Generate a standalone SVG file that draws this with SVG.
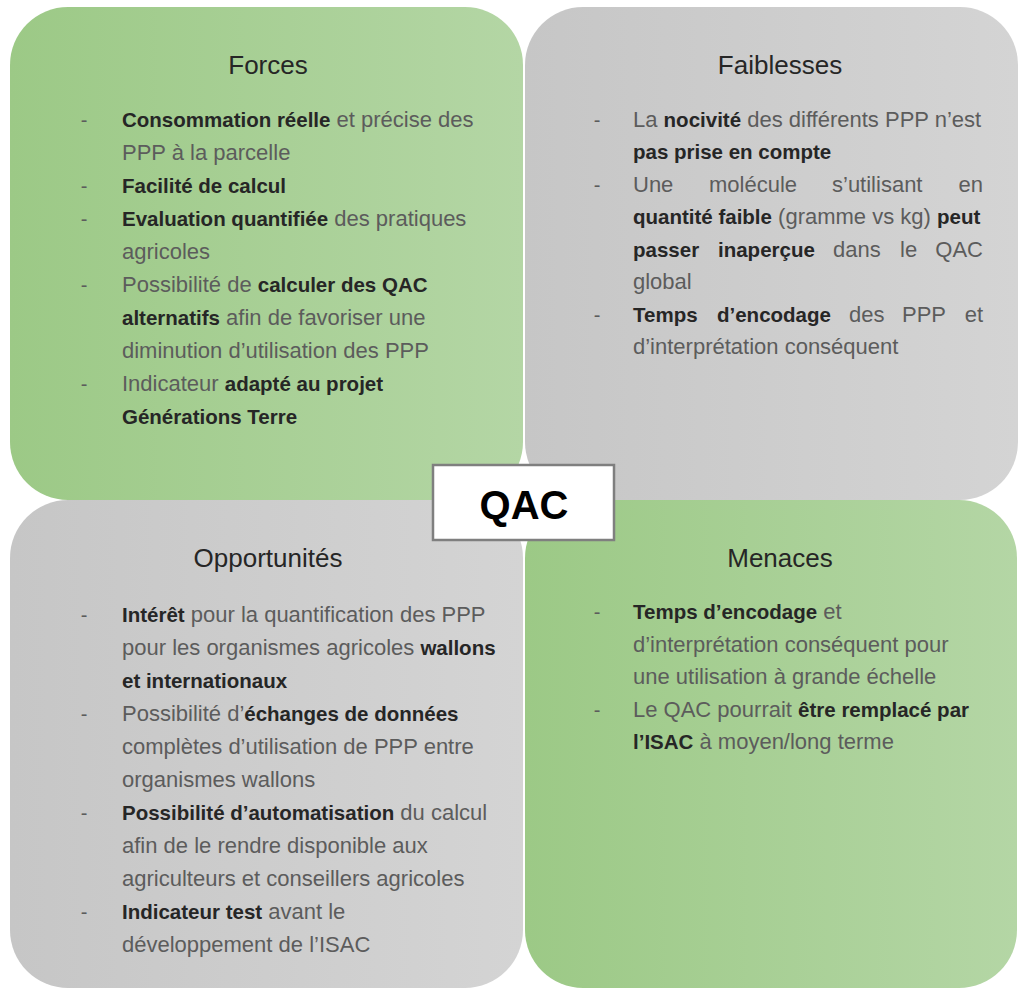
<svg xmlns="http://www.w3.org/2000/svg" width="1019" height="990" viewBox="0 0 1019 990">
  <defs>
    <linearGradient id="gGreen" x1="0" y1="0" x2="1" y2="0">
      <stop offset="0" stop-color="#9cc986"/>
      <stop offset="1" stop-color="#b4d6a5"/>
    </linearGradient>
    <linearGradient id="gGray" x1="0" y1="0" x2="1" y2="0">
      <stop offset="0" stop-color="#c6c6c6"/>
      <stop offset="1" stop-color="#d4d4d4"/>
    </linearGradient>
    <style>
      text { font-family: "Liberation Sans", Arial, sans-serif; }
      .title { font-size: 26px; fill: #262626; text-anchor: middle; }
      .t { font-size: 22px; fill: #5c5c5c; }
      .b { font-size: 20.5px; font-weight: bold; fill: #262626; }
      .dash { font-size: 20px; fill: #5c5c5c; text-anchor: middle; }
      .end { text-anchor: end; }
      .qac { font-size: 40px; font-weight: bold; fill: #000; text-anchor: middle; }
    </style>
  </defs>

  <rect width="1019" height="990" fill="#ffffff"/>

  <!-- Forces -->
  <g id="forces">
    <rect x="10" y="7" width="513" height="493" rx="58" fill="url(#gGreen)"/>
    <text class="title" x="268" y="74">Forces</text>
    <text class="dash" x="84" y="127">-</text>
    <text class="t" x="122" y="127"><tspan class="b">Consommation réelle</tspan> et précise des</text>
    <text class="t" x="122" y="160">PPP à la parcelle</text>
    <text class="dash" x="84" y="193">-</text>
    <text class="t" x="122" y="193"><tspan class="b">Facilité de calcul</tspan></text>
    <text class="dash" x="84" y="226">-</text>
    <text class="t" x="122" y="226"><tspan class="b">Evaluation quantifiée</tspan> des pratiques</text>
    <text class="t" x="122" y="259">agricoles</text>
    <text class="dash" x="84" y="292">-</text>
    <text class="t" x="122" y="292">Possibilité de <tspan class="b">calculer des QAC</tspan></text>
    <text class="t" x="122" y="325"><tspan class="b">alternatifs</tspan> afin de favoriser une</text>
    <text class="t" x="122" y="358">diminution d’utilisation des PPP</text>
    <text class="dash" x="84" y="391">-</text>
    <text class="t" x="122" y="391">Indicateur <tspan class="b">adapté au projet</tspan></text>
    <text class="t" x="122" y="424"><tspan class="b">Générations Terre</tspan></text>
  </g>

  <!-- Faiblesses (justified paragraphs: words placed on the line) -->
  <g id="faiblesses">
    <rect x="525" y="7" width="493" height="493" rx="58" fill="url(#gGray)"/>
    <text class="title" x="780" y="74">Faiblesses</text>
    <text class="dash" x="597" y="127">-</text>
    <text class="t" x="633" y="127">La <tspan class="b">nocivité</tspan> des différents PPP n’est</text>
    <text class="t" x="633" y="159"><tspan class="b">pas prise en compte</tspan></text>
    <text class="dash" x="597" y="192">-</text>
    <text class="t" x="633" y="192">Une</text>
    <text class="t" x="709" y="192">molécule</text>
    <text class="t" x="832" y="192">s’utilisant</text>
    <text class="t end" x="983" y="192">en</text>
    <text class="t" x="633" y="224"><tspan class="b">quantité faible</tspan> (gramme vs kg) <tspan class="b">peut</tspan></text>
    <text class="b" x="633" y="257">passer</text>
    <text class="b" x="718" y="257">inaperçue</text>
    <text class="t" x="833" y="257">dans</text>
    <text class="t" x="900" y="257">le</text>
    <text class="t end" x="983" y="257">QAC</text>
    <text class="t" x="633" y="289">global</text>
    <text class="dash" x="597" y="322">-</text>
    <text class="b" x="633" y="322">Temps</text>
    <text class="b" x="717" y="322">d’encodage</text>
    <text class="t" x="849" y="322">des</text>
    <text class="t" x="902" y="322">PPP</text>
    <text class="t end" x="983" y="322">et</text>
    <text class="t" x="633" y="354">d’interprétation conséquent</text>
  </g>

  <!-- Opportunités -->
  <g id="opportunites">
    <rect x="10" y="500" width="513" height="488" rx="58" fill="url(#gGray)"/>
    <text class="title" x="268" y="567">Opportunités</text>
    <text class="dash" x="84" y="622">-</text>
    <text class="t" x="122" y="622"><tspan class="b">Intérêt</tspan> pour la quantification des PPP</text>
    <text class="t" x="122" y="655">pour les organismes agricoles <tspan class="b">wallons</tspan></text>
    <text class="t" x="122" y="688"><tspan class="b">et internationaux</tspan></text>
    <text class="dash" x="84" y="721">-</text>
    <text class="t" x="122" y="721">Possibilité d’<tspan class="b">échanges de données</tspan></text>
    <text class="t" x="122" y="754">complètes d’utilisation de PPP entre</text>
    <text class="t" x="122" y="787">organismes wallons</text>
    <text class="dash" x="84" y="820">-</text>
    <text class="t" x="122" y="820"><tspan class="b">Possibilité d’automatisation</tspan> du calcul</text>
    <text class="t" x="122" y="853">afin de le rendre disponible aux</text>
    <text class="t" x="122" y="886">agriculteurs et conseillers agricoles</text>
    <text class="dash" x="84" y="919">-</text>
    <text class="t" x="122" y="919"><tspan class="b">Indicateur test</tspan> avant le</text>
    <text class="t" x="122" y="952">développement de l’ISAC</text>
  </g>

  <!-- Menaces -->
  <g id="menaces">
    <rect x="525" y="500" width="492" height="488" rx="58" fill="url(#gGreen)"/>
    <text class="title" x="780" y="567">Menaces</text>
    <text class="dash" x="597" y="619">-</text>
    <text class="t" x="633" y="619"><tspan class="b">Temps d’encodage</tspan> et</text>
    <text class="t" x="633" y="652">d’interprétation conséquent pour</text>
    <text class="t" x="633" y="684">une utilisation à grande échelle</text>
    <text class="dash" x="597" y="717">-</text>
    <text class="t" x="633" y="717">Le QAC pourrait <tspan class="b">être remplacé par</tspan></text>
    <text class="t" x="633" y="749"><tspan class="b">l’ISAC</tspan> à moyen/long terme</text>
  </g>

  <!-- Centre label -->
  <g id="qac">
    <rect x="433" y="465" width="181" height="75" fill="#ffffff" stroke="#7f7f7f" stroke-width="2.5"/>
    <text class="qac" x="524" y="519">QAC</text>
  </g>
</svg>
